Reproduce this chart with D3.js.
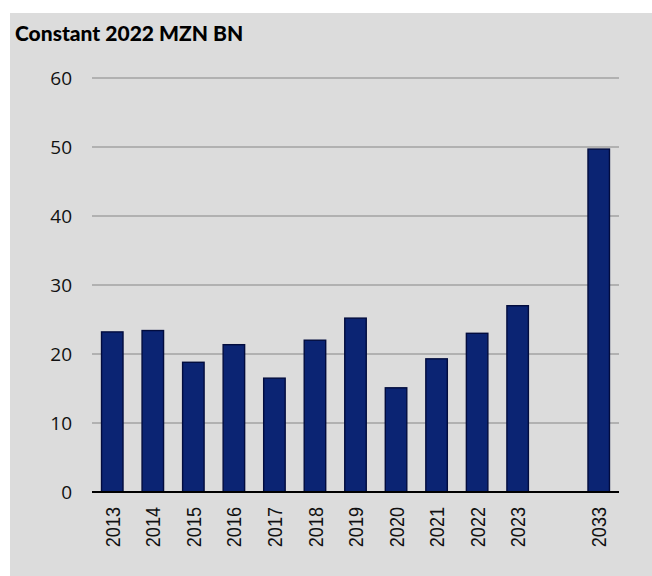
<!DOCTYPE html>
<html>
<head>
<meta charset="utf-8">
<script src="https://cdn.jsdelivr.net/npm/d3@7"></script>
<style>
  body { margin: 0; background: #fff; }
</style>
</head>
<body>
<div id="chartDiv"></div>
<script>
// chart data
var years = ["2013", "2014", "2015", "2016", "2017", "2018", "2019", "2020", "2021", "2022", "2023", "", "2033"];
var values = [23.2, 23.4, 18.8, 21.35, 16.5, 22.0, 25.2, 15.1, 19.3, 23.0, 27.0, null, 49.7];
var yTicks = [0, 10, 20, 30, 40, 50, 60];
var title = "Constant 2022 MZN BN";

var width = 652, height = 576;
var margin = {top: 78, right: 33, bottom: 84, left: 92};

var svg = d3.select('#chartDiv').append('svg')
    .attr('width', width)
    .attr('height', height);

// panel background
svg.append('rect')
    .attr('x', 10).attr('y', 13)
    .attr('width', width - 10).attr('height', height - 13)
    .style('fill', '#dcdcdc');

var x = d3.scaleBand()
    .domain(d3.range(years.length))
    .range([margin.left, width - margin.right])
    .paddingInner(0.47)
    .paddingOuter(0.235);

var y = d3.scaleLinear()
    .domain([0, 60])
    .range([height - margin.bottom, margin.top]);

// gridlines
svg.append('g').selectAll('line')
    .data(yTicks.filter(function(d) { return d > 0; }))
    .enter().append('line')
    .attr('x1', margin.left)
    .attr('x2', width - margin.right)
    .attr('y1', function(d) { return y(d); })
    .attr('y2', function(d) { return y(d); })
    .style('stroke', '#a3a3a3')
    .style('stroke-width', 1.3);

// y labels
svg.append('g').selectAll('text')
    .data(yTicks)
    .enter().append('text')
    .attr('x', 72)
    .attr('y', function(d) { return y(d); })
    .attr('dy', '0.35em')
    .attr('text-anchor', 'end')
    .style('font-family', '"Open Sans", sans-serif')
    .style('font-size', '19px')
    .style('fill', '#111')
    .text(function(d) { return d; });

// bars
svg.append('g').selectAll('rect')
    .data(values.map(function(v, i) { return {i: i, v: v}; }).filter(function(d) { return d.v !== null; }))
    .enter().append('rect')
    .attr('x', function(d) { return x(d.i); })
    .attr('y', function(d) { return y(d.v); })
    .attr('width', x.bandwidth())
    .attr('height', function(d) { return y(0) - y(d.v); })
    .style('fill', '#0b2473')
    .style('stroke', '#020c3e')
    .style('stroke-width', 1.4);

// baseline
svg.append('line')
    .attr('x1', margin.left)
    .attr('x2', width - margin.right)
    .attr('y1', y(0))
    .attr('y2', y(0))
    .style('stroke', '#000')
    .style('stroke-width', 2);

// x labels, rotated
svg.append('g').selectAll('text')
    .data(years.map(function(t, i) { return {i: i, t: t}; }).filter(function(d) { return d.t !== ""; }))
    .enter().append('text')
    .attr('transform', function(d) {
        return 'translate(' + (x(d.i) + x.bandwidth() / 2) + ',' + 507 + ') rotate(-90) scale(0.86,1)';
    })
    .attr('dy', '0.36em')
    .attr('text-anchor', 'end')
    .style('font-family', '"Liberation Sans", Arial, sans-serif')
    .style('font-size', '21px')
    .style('fill', '#111')
    .text(function(d) { return d.t; });

// title
svg.append('text')
    .attr('x', 15)
    .attr('y', 41)
    .style('font-family', 'Lato, sans-serif')
    .style('font-weight', '900')
    .style('font-size', '21px')
    .style('fill', '#000')
    .text(title);
</script>
</body>
</html>
